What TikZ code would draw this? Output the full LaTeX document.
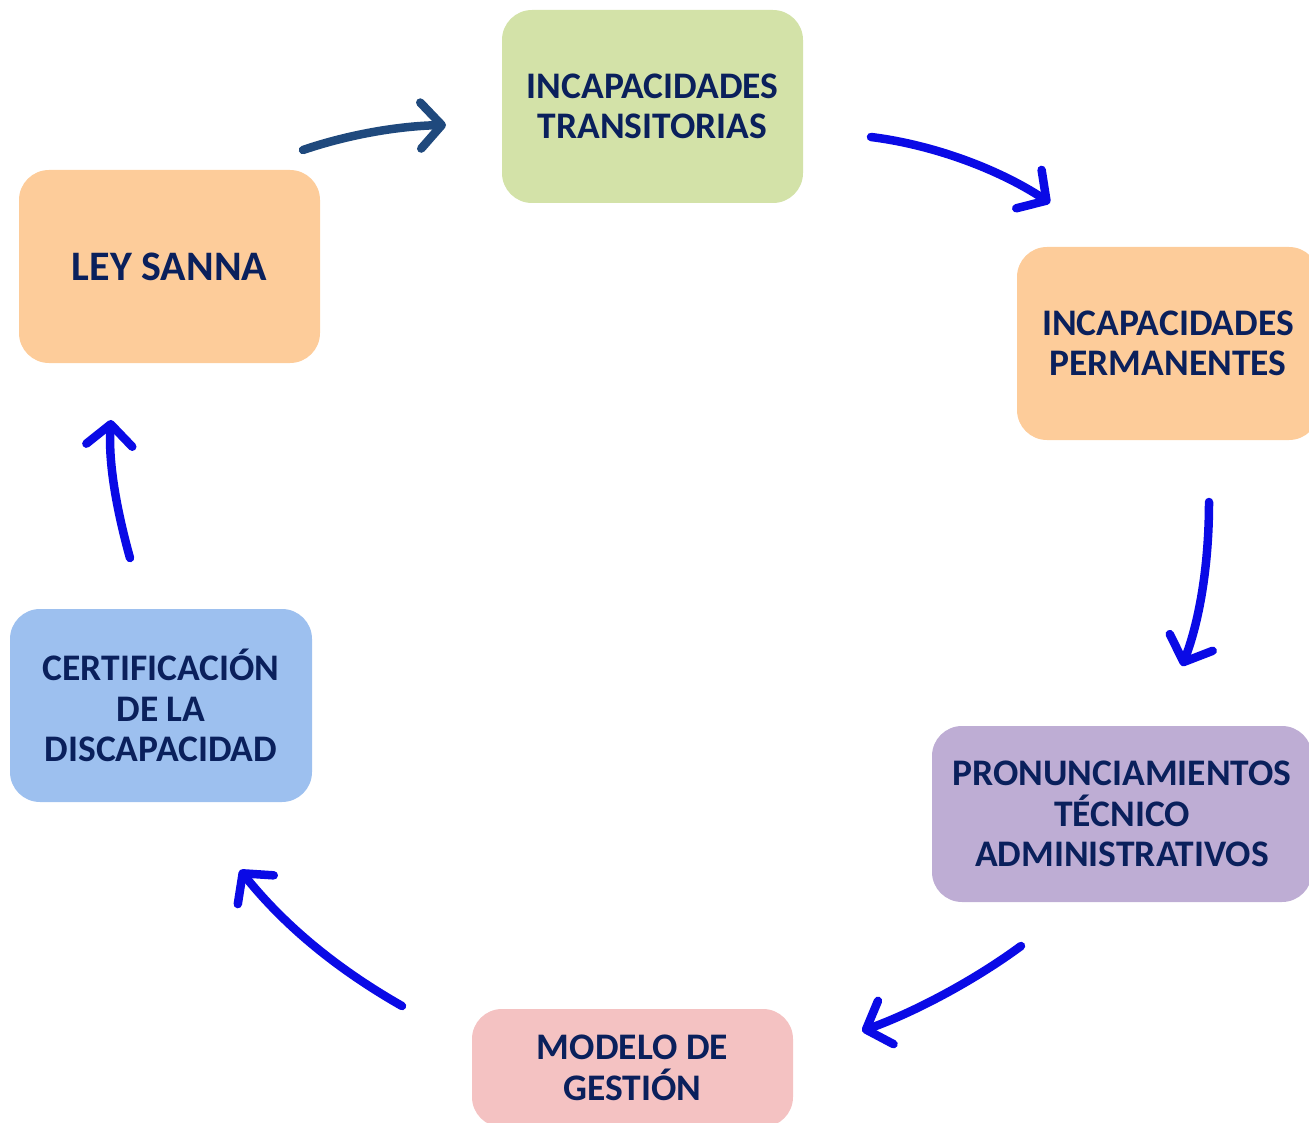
\documentclass[tikz,border=0pt]{standalone}
\usepackage{fontspec}
\setmainfont{Carlito}
\usetikzlibrary{arrows.meta}
\definecolor{txt}{RGB}{10,32,92}
\definecolor{cgreen}{RGB}{211,226,168}
\definecolor{corange}{RGB}{253,204,154}
\definecolor{cpurple}{RGB}{190,173,212}
\definecolor{cpink}{RGB}{244,194,194}
\definecolor{cblue}{RGB}{157,192,239}
\definecolor{darrow}{RGB}{31,73,125}
\definecolor{barrow}{RGB}{10,10,230}
\tikzset{
  box/.style={rounded corners=30pt, inner sep=0pt, align=center, text=txt,
    font=\fontsize{37.5}{40.5}\selectfont\bfseries},
  cyc/.style={line width=8.5pt, draw=barrow, line cap=round,
    -{Straight Barb[length=21pt,width=46pt,round]}},
}
\begin{document}
\begin{tikzpicture}[x=1pt,y=-1pt]
\useasboundingbox (0,0) rectangle (1309,1123);
\clip (0,0) rectangle (1309,1123);
\node[box, fill=cgreen, minimum width=301pt, minimum height=193pt] (it) at (652.5,106.5) {INCAPACIDADES\\TRANSITORIAS};
\node[box, fill=corange, minimum width=301pt, minimum height=193pt, font=\fontsize{42}{46}\selectfont\bfseries] (ley) at (169.5,266.5) {LEY SANNA};
\node[box, fill=corange, minimum width=302pt, minimum height=193pt] (ip) at (1168,343.5) {INCAPACIDADES\\PERMANENTES};
\node[box, fill=cpurple, minimum width=380pt, minimum height=176pt] (pr) at (1122,814) {PRONUNCIAMIENTOS\\TÉCNICO\\ADMINISTRATIVOS};
\node[box, fill=cpink, minimum width=321pt, minimum height=118pt] (mg) at (632.5,1068) {MODELO DE\\GESTIÓN};
\node[box, fill=cblue, minimum width=302pt, minimum height=193pt] (ce) at (161,705.5) {CERTIFICACIÓN\\DE LA\\DISCAPACIDAD};

\coordinate (a1s) at (303,150); \coordinate (a1e) at (446,125);
\coordinate (a2s) at (871,137); \coordinate (a2e) at (1050,203);
\coordinate (a3s) at (1209,502); \coordinate (a3e) at (1182,666);
\coordinate (a4s) at (1021,946); \coordinate (a4e) at (862,1031);
\coordinate (a5s) at (402,1006); \coordinate (a5e) at (240,870);
\coordinate (a6s) at (130,558); \coordinate (a6e) at (111,420);

\draw[cyc, draw=darrow] (a1s) .. controls (350,134) and (400,126) .. (a1e);
\draw[cyc] (a2s) .. controls (935,145) and (1000,170) .. (a2e);
\draw[cyc] (a3s) .. controls (1209,570) and (1198,625) .. (a3e);
\draw[cyc] (a4s) .. controls (975,980) and (915,1012) .. (a4e);
\draw[cyc] (a5s) .. controls (330,965) and (280,920) .. (a5e);
\draw[cyc] (a6s) .. controls (118,515) and (108,465) .. (a6e);
\end{tikzpicture}
\end{document}
